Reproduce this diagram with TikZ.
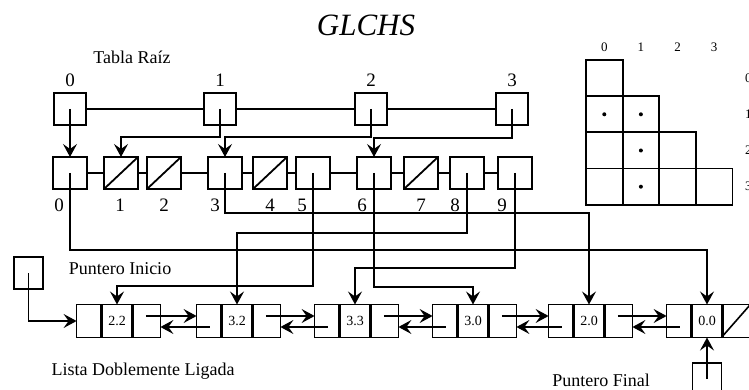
\documentclass[tikz,border=0pt]{standalone}
\usepackage{fontspec}
\setmainfont{Liberation Serif}
\usetikzlibrary{arrows.meta,positioning}
\tikzset{
  caja/.style={draw, line width=1.8pt, minimum width=32pt, minimum height=32pt, inner sep=0pt, outer sep=0pt},
  nulo/.style={caja, path picture={\draw[line width=1.8pt] (path picture bounding box.south west) -- (path picture bounding box.north east);}},
  celda/.style={draw, line width=1.6pt, minimum height=33pt, inner sep=0pt, outer sep=0pt, font=\fontsize{14}{14}\selectfont},
  flecha/.style={line width=1.4pt, -{Stealth[length=13pt,width=14pt,inset=5pt]}},
  linea/.style={line width=1.4pt},
  num/.style={font=\fontsize{19}{19}\selectfont, inner sep=0pt},
  rotulo/.style={font=\fontsize{18}{18}\selectfont, inner sep=0pt},
  indice/.style={font=\fontsize{13}{13}\selectfont, inner sep=0pt},
}
\begin{document}
\begin{tikzpicture}[x=1pt,y=-1pt]
    \useasboundingbox (0,0) rectangle (749,390);

    \node[font=\itshape\fontsize{31}{31}\selectfont] (titulo) at (366,25) {GLCHS};
    \node[rotulo] (raiz) at (132,57) {Tabla Ra\'iz};

    % tabla raiz
    \foreach \i/\x in {0/70,1/220,2/371,3/512}{
    \node[caja] (r\i) at (\x,109) {};
    \node[num, above=6pt of r\i] (t\i) {\i};
    }
    \foreach \i/\j in {0/1,1/2,2/3}
    \draw[linea] (r\i) -- (r\j);

    % vector de elementos
    \foreach \i/\x/\s in {0/70/caja,1/121/nulo,2/164/nulo,3/225/caja,4/270/nulo,5/313/caja,6/374/caja,7/421/nulo,8/467/caja,9/515/caja}
    \node[\s, minimum width=34pt] (s\i) at (\x,173) {};
    \foreach \i/\j in {0/1,1/2,2/3,3/4,4/5,5/6,6/7,7/8,8/9}
    \draw[linea] (s\i) -- (s\j);
    \foreach \i/\x in {0/59,1/120,2/164,3/215,4/270,5/302,6/362,7/421,8/455,9/502}
    \node[num] (e\i) at (\x,205) {\i};

    \draw[flecha] (r0.center) -- (s0.north);
    \draw[flecha] (r1.center) -- ++(0,28) -| (s1.north);
    \draw[flecha] (r2.center) -- ++(0,28) -| (s3.north);
    \draw[flecha] (r3.center) -- ++(0,29) -| (s6.north);

    % lista doblemente ligada
    \foreach \i/\x/\v in {1/117/2.2,2/237/3.2,3/355/3.3,4/473/3.0,5/589/2.0,6/707/0.0}{
    \node[celda, minimum width=32pt] (n\i) at (\x,321) {\v};
    \node[celda, minimum width=26pt, left=-1.6pt of n\i] (i\i) {};
    \node[celda, minimum width=29pt, right=-1.6pt of n\i] (d\i) {};
    }
    \draw[line width=1.6pt] (d6.south west) -- (d6.north east);
    \foreach \i/\j in {1/2,2/3,3/4,4/5,5/6}{
    \draw[flecha] ([yshift=5pt]d\i.center) -- ([yshift=5pt]i\j.west);
    \draw[flecha] ([yshift=-6pt]i\j.center) -- ([yshift=-6pt]d\i.east);
    }

    \draw[flecha] (s0.center) -- ++(0,77) -| (n6.north);
    \draw[flecha] (s3.center) -- ++(0,40) -| (n5.north);
    \draw[flecha] (s5.center) -- ++(0,113) -| (n1.north);
    \draw[flecha] (s6.center) -- ++(0,114) -| (n4.north);
    \draw[flecha] (s8.center) -- ++(0,60) -| (n2.north);
    \draw[flecha] (s9.center) -- ++(0,95) -| (n3.north);

    % punteros
    \node[caja, minimum width=29pt] (pi) at (28.5,273) {};
    \node[caja, minimum width=29pt] (pf) at (707,379) {};
    \draw[flecha] (pi.center) |- (i1.west);
    \draw[flecha] (pf.center) -- (n6.south);
    \node[rotulo] (lpi) at (120,269) {Puntero Inicio};
    \node[rotulo] (lista) at (143,371) {Lista Doblemente Ligada};
    \node[rotulo] (lpf) at (601,380) {Puntero Final};

    % matriz triangular
    \foreach \r in {0,...,3}
    \foreach \c in {0,...,\r}
    \draw[line width=1.8pt] ({586+36.6*\c},{60+36.2*\r}) rectangle ++(36.6,36.2);
    \foreach \r/\c in {1/0,1/1,2/1,3/1}
    \fill ({604.3+36.6*\c},{78.1+36.2*\r}) circle (2pt);
    \foreach \c in {0,...,3}
    \node[indice] (col\c) at ({604.3+36.6*\c},47) {\c};
    \foreach \r in {0,...,3}
    \node[indice, anchor=west] (fil\r) at (745,{78.1+36.2*\r}) {\r};

\end{tikzpicture}
\end{document}
